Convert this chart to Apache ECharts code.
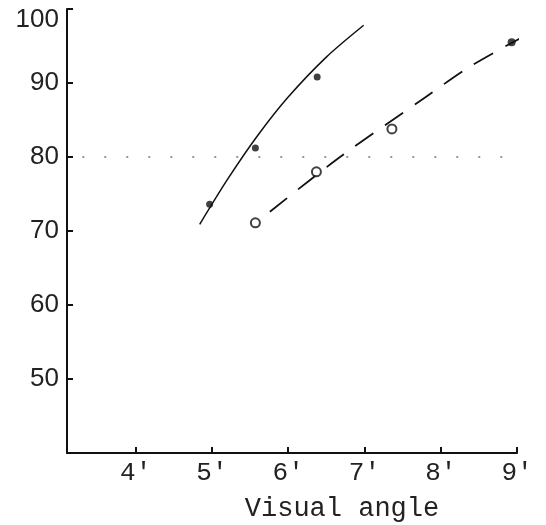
<!DOCTYPE html>
<html>
<head>
<meta charset="utf-8">
<script src="https://cdn.jsdelivr.net/npm/echarts@6/dist/echarts.min.js"></script>
<style>
  html, body { margin: 0; padding: 0; background: #fff; }
  #chart { width: 546px; height: 525px; }
</style>
</head>
<body>
<div id="chart"></div>
<script>
// ticks
const xTicks = [4, 5, 6, 7, 8, 9]
const yTicks = [50, 60, 70, 80, 90, 100]

// measured points (filled dots on the solid curve)
const solidDots = [[4.97, 73.6], [5.57, 81.2], [6.38, 90.8]]
// open circles on the dashed curve
const openDots = [[5.57, 71.1], [6.37, 78.0], [7.36, 83.8]]
// single filled dot at the end of the dashed curve
const endDot = [[8.93, 95.5]]

// fitted curves
const solidCurve = [[4.84, 70.9], [5.2, 76.9], [5.6, 82.9], [6.0, 88.1], [6.5, 93.5], [6.99, 97.8]]
const dashedCurve = [[5.76, 72.6], [6.68, 80.0], [7.79, 88.0], [8.38, 92.2], [9.07, 96.2]]

// 80% reference line
const refLine = [[3.3, 80], [8.95, 80]]

const chart = echarts.init(document.getElementById('chart'))

const option = {
  backgroundColor: '#fff',
  animation: false,
  grid: { left: 67, right: 29, top: 9, bottom: 72, outerBoundsMode: 'none' },
  xAxis: {
    type: 'value',
    min: 3.1,
    max: 9,
    splitLine: { show: false },
    axisLine: { lineStyle: { color: '#111', width: 2 } },
    axisTick: { customValues: xTicks, inside: true, length: 6, lineStyle: { color: '#111', width: 2 } },
    axisLabel: {
      customValues: xTicks,
      formatter: v => v + '\u2032',
      color: '#222',
      fontFamily: 'Liberation Mono',
      fontSize: 26,
      margin: 7
    },
    name: 'Visual angle',
    nameLocation: 'middle',
    nameGap: 42,
    nameTextStyle: {
      color: '#222',
      fontFamily: 'Liberation Mono',
      fontSize: 27,
      padding: [0, 0, 0, 100]
    }
  },
  yAxis: {
    type: 'value',
    min: 40,
    max: 100,
    splitLine: { show: false },
    axisLine: { lineStyle: { color: '#111', width: 2 } },
    axisTick: { customValues: yTicks, inside: true, length: 6, lineStyle: { color: '#111', width: 2 } },
    axisLabel: {
      customValues: yTicks,
      // the top label sits a little lower in the original
      formatter: v => (v === 100 ? '{top|100}' : String(v)),
      rich: {
        top: { fontFamily: 'Liberation Sans', fontSize: 26, color: '#222', padding: [22, 0, 0, 0] }
      },
      color: '#222',
      fontFamily: 'Liberation Sans',
      fontSize: 26,
      margin: 8
    }
  },
  series: [
    {
      type: 'line',
      data: refLine,
      symbol: 'none',
      lineStyle: { color: '#777', width: 1.5, type: [2, 20] }
    },
    {
      type: 'line',
      data: solidCurve,
      smooth: 0.3,
      symbol: 'none',
      lineStyle: { color: '#111', width: 1.5 }
    },
    {
      type: 'line',
      data: dashedCurve,
      smooth: 0.3,
      symbol: 'none',
      clip: false,
      lineStyle: { color: '#111', width: 1.8, type: [22, 14] }
    },
    {
      type: 'scatter',
      data: solidDots,
      symbolSize: 7,
      itemStyle: { color: '#111' }
    },
    {
      type: 'scatter',
      data: openDots,
      symbolSize: 9,
      itemStyle: { color: '#fff', borderColor: '#111', borderWidth: 2 }
    },
    {
      type: 'scatter',
      data: endDot,
      symbolSize: 8,
      clip: false,
      itemStyle: { color: '#111' }
    }
  ]
}

chart.setOption(option)
</script>
</body>
</html>
